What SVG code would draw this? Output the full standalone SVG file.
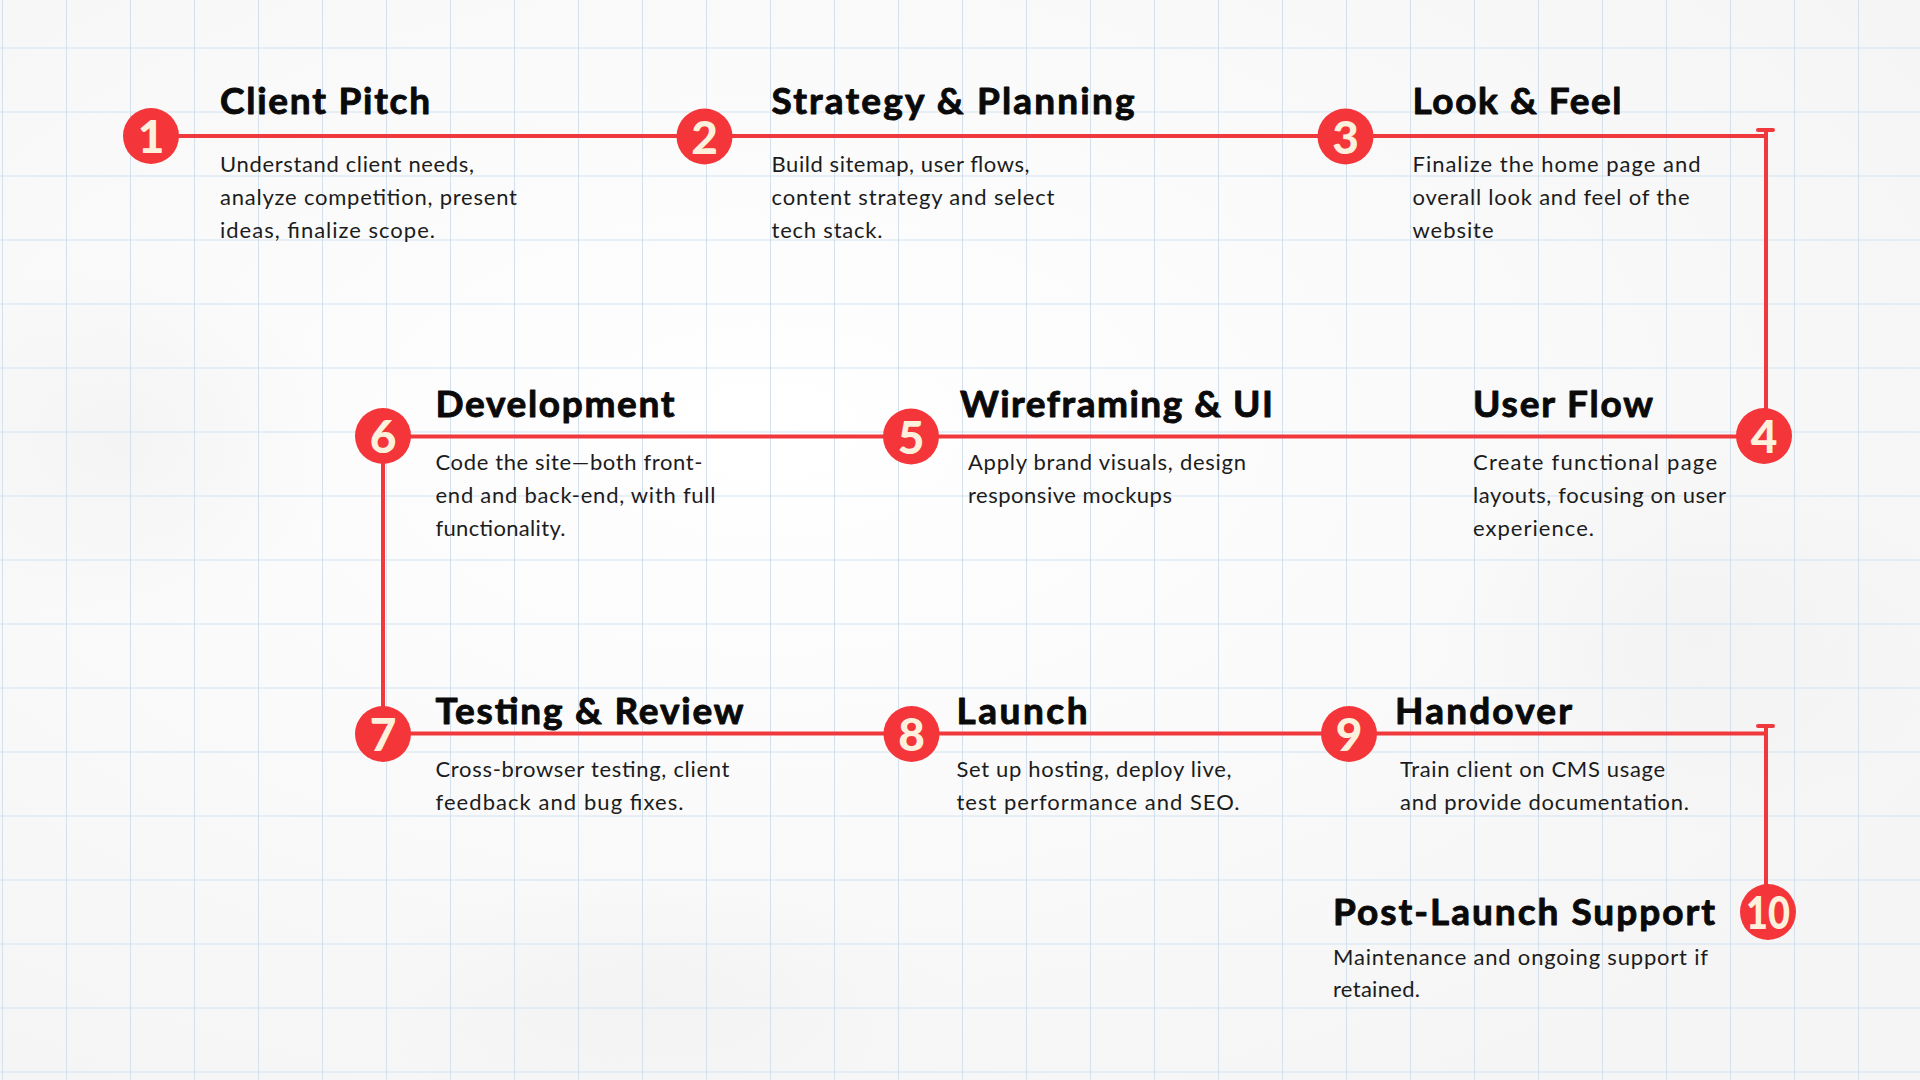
<svg xmlns="http://www.w3.org/2000/svg" width="1920" height="1080" viewBox="0 0 1920 1080">
  <defs>
    <style>
      .title { font-family: Lato, "Liberation Sans", sans-serif; font-weight: 700; font-size: 37px; fill: #0a0a0a; stroke: #0a0a0a; stroke-width: 0.9; stroke-linejoin: round; }
      .body { font-family: Lato, "Liberation Sans", sans-serif; font-weight: 400; font-size: 22px; fill: #1c1c1c; }
      .num { font-family: Lato, "Liberation Sans", sans-serif; font-weight: 900; font-size: 46px; fill: #fdf0dc; text-anchor: middle; }
      .dot { fill: #f4363a; }
      .conn { stroke: #f0393c; stroke-width: 4; fill: none; stroke-linecap: round; }
      .grid { stroke: #d3e1ee; stroke-width: 2; }
    </style>
    <radialGradient id="paper1" cx="0.4" cy="0.4" r="0.7">
      <stop offset="0" stop-color="#ffffff"/>
      <stop offset="1" stop-color="#f5f5f5"/>
    </radialGradient>
    <radialGradient id="paper2" cx="0.5" cy="0.5" r="0.5">
      <stop offset="0" stop-color="#eeeeee" stop-opacity="0.5"/>
      <stop offset="1" stop-color="#eeeeee" stop-opacity="0"/>
    </radialGradient>
    <pattern id="gridpat" x="2" y="47.5" width="64" height="64" patternUnits="userSpaceOnUse">
      <line class="grid" x1="0" y1="0" x2="64" y2="0"/>
      <line class="grid" x1="0" y1="0" x2="0" y2="64"/>
    </pattern>
  </defs>

  <g id="background">
    <rect width="1920" height="1080" fill="url(#paper1)"/>
    <ellipse cx="120" cy="440" rx="220" ry="180" fill="url(#paper2)"/>
    <ellipse cx="1700" cy="640" rx="260" ry="200" fill="url(#paper2)"/>
    <ellipse cx="650" cy="1000" rx="300" ry="120" fill="url(#paper2)"/>
    <rect x="-62" y="-16.5" width="2000" height="1120" fill="url(#gridpat)"/>
  </g>

  <g id="connectors">
    <path class="conn" d="M151 136 H1766"/>
    <path class="conn" d="M1766 130 V436"/>
    <path class="conn" d="M1758 130 H1773"/>
    <path class="conn" d="M383 436.5 H1764"/>
    <path class="conn" d="M383 436 V734"/>
    <path class="conn" d="M383 733.5 H1766"/>
    <path class="conn" d="M1758 726 H1773"/>
    <path class="conn" d="M1766 726 V912"/>
  </g>

  <g id="step1">
    <circle class="dot" cx="151" cy="136" r="28"/>
    <text class="num" x="151" y="153">1</text>
    <text class="title" x="220" y="113.5" textLength="210">Client Pitch</text>
    <text class="body" x="220" y="171.5" textLength="254">Understand client needs,</text>
    <text class="body" x="220" y="204.5" textLength="297">analyze competition, present</text>
    <text class="body" x="220" y="237.5" textLength="215">ideas, finalize scope.</text>
  </g>

  <g id="step2">
    <circle class="dot" cx="704.5" cy="136.5" r="28"/>
    <text class="num" x="704.5" y="153.5">2</text>
    <text class="title" x="771.5" y="113.5" textLength="363">Strategy &amp; Planning</text>
    <text class="body" x="771.5" y="171.5" textLength="258">Build sitemap, user flows,</text>
    <text class="body" x="771.5" y="204.5" textLength="283">content strategy and select</text>
    <text class="body" x="771.5" y="237.5" textLength="111">tech stack.</text>
  </g>

  <g id="step3">
    <circle class="dot" cx="1345.5" cy="136.5" r="28"/>
    <text class="num" x="1345.5" y="153.5">3</text>
    <text class="title" x="1412.5" y="113.5" textLength="209">Look &amp; Feel</text>
    <text class="body" x="1412.5" y="171.5" textLength="288">Finalize the home page and</text>
    <text class="body" x="1412.5" y="204.5" textLength="277">overall look and feel of the</text>
    <text class="body" x="1412.5" y="237.5" textLength="81">website</text>
  </g>

  <g id="step4">
    <circle class="dot" cx="1764" cy="436" r="28"/>
    <text class="num" x="1764" y="453">4</text>
    <text class="title" x="1473" y="417" textLength="180">User Flow</text>
    <text class="body" x="1473" y="470" textLength="244">Create functional page</text>
    <text class="body" x="1473" y="503" textLength="253">layouts, focusing on user</text>
    <text class="body" x="1473" y="536" textLength="121">experience.</text>
  </g>

  <g id="step5">
    <circle class="dot" cx="911" cy="436.5" r="28"/>
    <text class="num" x="911" y="453.5">5</text>
    <text class="title" x="960" y="417" textLength="313">Wireframing &amp; UI</text>
    <text class="body" x="968" y="470" textLength="278">Apply brand visuals, design</text>
    <text class="body" x="968" y="503" textLength="204">responsive mockups</text>
  </g>

  <g id="step6">
    <circle class="dot" cx="383" cy="436" r="28"/>
    <text class="num" x="383" y="453">6</text>
    <text class="title" x="435.5" y="417" textLength="239">Development</text>
    <text class="body" x="435.5" y="470" textLength="267">Code the site—both front-</text>
    <text class="body" x="435.5" y="503" textLength="280">end and back-end, with full</text>
    <text class="body" x="435.5" y="536" textLength="130">functionality.</text>
  </g>

  <g id="step7">
    <circle class="dot" cx="383" cy="734" r="28"/>
    <text class="num" x="383" y="751">7</text>
    <text class="title" x="435.5" y="724" textLength="308">Testing &amp; Review</text>
    <text class="body" x="435.5" y="777" textLength="294">Cross-browser testing, client</text>
    <text class="body" x="435.5" y="809.5" textLength="248">feedback and bug fixes.</text>
  </g>

  <g id="step8">
    <circle class="dot" cx="911.5" cy="734" r="28"/>
    <text class="num" x="911.5" y="751">8</text>
    <text class="title" x="956.5" y="724" textLength="131">Launch</text>
    <text class="body" x="956.5" y="777" textLength="275">Set up hosting, deploy live,</text>
    <text class="body" x="956.5" y="809.5" textLength="283">test performance and SEO.</text>
  </g>

  <g id="step9">
    <circle class="dot" cx="1349" cy="734" r="28"/>
    <text class="num" x="1349" y="751">9</text>
    <text class="title" x="1395" y="724" textLength="177">Handover</text>
    <text class="body" x="1400" y="777" textLength="265">Train client on CMS usage</text>
    <text class="body" x="1400" y="809.5" textLength="289">and provide documentation.</text>
  </g>

  <g id="step10">
    <circle class="dot" cx="1768" cy="912" r="28"/>
    <text class="num" x="1768" y="929" textLength="44" lengthAdjust="spacingAndGlyphs">10</text>
    <text class="title" x="1333" y="925" textLength="382">Post-Launch Support</text>
    <text class="body" x="1333" y="965" textLength="375">Maintenance and ongoing support if</text>
    <text class="body" x="1333" y="997" textLength="87">retained.</text>
  </g>
</svg>
